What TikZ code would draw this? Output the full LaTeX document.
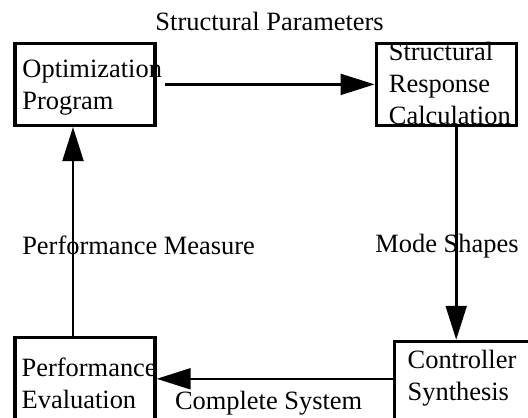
\documentclass[tikz,border=0pt]{standalone}
\usepackage{fontspec}
\setmainfont{Liberation Serif}
\usetikzlibrary{positioning,arrows.meta}

\tikzset{
  block/.style={draw, rectangle, line width=0.08cm, minimum width=3.5cm, minimum height=2.05cm},
  boxtext/.style={align=left, inner sep=0pt, anchor=north west},
  flow/.style={->, line width=0.065cm}
}

\begin{document}
\begin{tikzpicture}[node distance=9.03cm, >={Triangle[length=0.85cm,width=0.52cm]},
    font={\fontsize{18.8pt}{22.8pt}\selectfont}]
    \path[use as bounding box, clip] (0,0) rectangle (13.2,-10.425);

    % Boxes
    \node[block] (opt) at (2.125,-2.11) {};
    \node[block, right of=opt] (resp) {};
    \node[block, below of=opt, node distance=7.36cm] (perf) {};
    \node[block, below of=resp, node distance=7.45cm, xshift=0.45cm] (syn) {};

    % Box texts
    \node[boxtext] (opttext) at ([xshift=0.22cm, yshift=-0.45cm]opt.north west) {Optimization\\Program};
    \node[boxtext] (resptext) at ([xshift=0.35cm]resp.north west) {Structural\\Response\\Calculation};
    \node[boxtext] (perftext) at ([xshift=0.2cm, yshift=-0.53cm]perf.north west) {Performance\\Evaluation};
    \node[boxtext] (syntext) at ([xshift=0.37cm, yshift=-0.25cm]syn.north west) {Controller\\Synthesis};

    % Arrows
    \draw[flow] ([xshift=0.2cm]opt.east) -- node[above=1.2cm] (params) {Structural Parameters} (resp.west);
    \draw[flow] ([xshift=0.25cm]resp.south) -- node[xshift=-0.23cm, yshift=-0.32cm] (modes) {Mode Shapes} ([xshift=0.25cm]resp.south |- syn.north);
    \draw[flow] (syn.west |- perf.east) -- node[below=0.16cm, xshift=-0.15cm] (system) {Complete System} (perf.east);
    \draw[flow] ([xshift=-0.3cm]opt.south |- perf.north) -- node[xshift=1.64cm, yshift=-0.34cm] (measure) {Performance Measure} ([xshift=-0.3cm]opt.south);

\end{tikzpicture}
\end{document}
